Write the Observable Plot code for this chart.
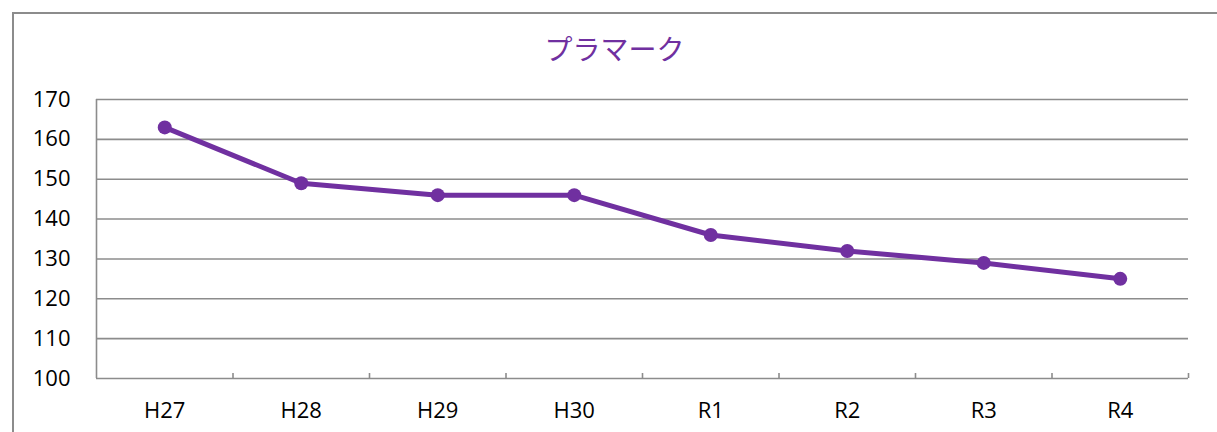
<!DOCTYPE html>
<html>
<head>
<meta charset="utf-8">
<script src="https://cdn.jsdelivr.net/npm/d3@7"></script>
<script src="https://cdn.jsdelivr.net/npm/@observablehq/plot@0.6"></script>
<style>
  html, body { margin: 0; padding: 0; background: #fff; }
  #wrap { position: relative; width: 1217px; height: 432px; overflow: hidden; }
  #frame { position: absolute; left: 12px; top: 12px; width: 1230px; height: 460px; border: 2px solid #8c8c8c; box-sizing: border-box; }
  #title { position: absolute; left: 0; width: 1229px; top: 28px; text-align: center; font-family: "Noto Sans CJK JP", sans-serif; font-size: 28px; color: #7030A0; }
  #chart { position: absolute; left: 0; top: 0; }
</style>
</head>
<body>
<div id="wrap">
  <div id="frame"></div>
  <div id="chart"></div>
  <div id="title">プラマーク</div>
</div>
<script>
const categories = ["H27", "H28", "H29", "H30", "R1", "R2", "R3", "R4"];
const values = [163, 149, 146, 146, 136, 132, 129, 125];
const yTicks = [100, 110, 120, 130, 140, 150, 160, 170];

const data = categories.map((c, i) => ({cat: c, pos: i + 0.5, value: values[i]}));
const boundaries = d3.range(1, categories.length + 1);
const centers = categories.map((c, i) => i + 0.5);

const purple = "#7030A0";
const gray = "#8c8c8c";

const chart = Plot.plot({
  width: 1217,
  height: 432,
  marginLeft: 96,
  marginRight: 29,
  marginTop: 99,
  marginBottom: 54,
  style: {fontFamily: "'Open Sans', sans-serif", fontSize: "22px", color: "#000", background: "transparent", overflow: "visible"},
  x: {domain: [0, categories.length], axis: null, label: null},
  y: {domain: [100, 170], axis: null, label: null},
  marks: [
    Plot.ruleY(yTicks, {stroke: gray, strokeWidth: 1.6}),
    Plot.ruleX([0], {y1: 100, y2: 170, stroke: gray, strokeWidth: 1.6}),
    Plot.axisY({ticks: yTicks, tickSize: 0, tickPadding: 26, fontSize: 22, fill: "#000", label: null}),
    Plot.axisX({ticks: boundaries, tickSize: -5, tickFormat: () => "", stroke: gray, strokeWidth: 1.6, label: null}),
    Plot.axisX({ticks: centers, tickSize: 0, tickPadding: 24, tickFormat: d => categories[Math.round(d - 0.5)], fontSize: 22, fill: "#000", label: null}),
    Plot.line(data, {x: "pos", y: "value", stroke: purple, strokeWidth: 5}),
    Plot.dot(data, {x: "pos", y: "value", fill: purple, r: 7})
  ]
});
document.getElementById("chart").appendChild(chart);
</script>
</body>
</html>
